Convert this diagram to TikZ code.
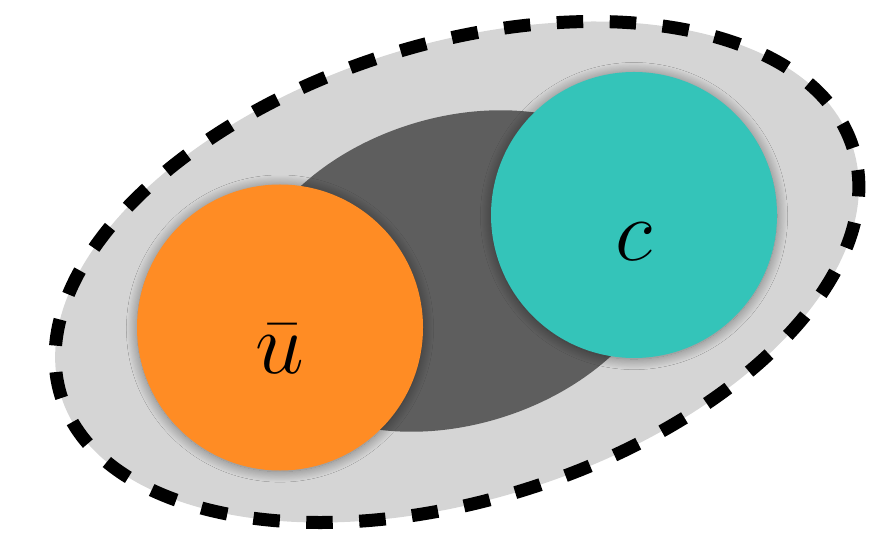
\documentclass[tikz,border=0pt]{standalone}
\usepackage{tikz}
\usetikzlibrary{shapes.geometric,positioning,shadows.blur}
\usepackage{xcolor}
\usepackage{amsmath}
\definecolor{haloclr}{RGB}{213,213,213}
\definecolor{coreclr}{RGB}{94,94,94}
\definecolor{ubarclr}{RGB}{255,140,36}
\definecolor{charmclr}{RGB}{52,196,185}
\tikzset{
  halo/.style={ellipse,fill=haloclr,draw=black,line width=1.3mm,
    dash pattern=on 2.65mm off 2.65mm,inner sep=0pt},
  coreblk/.style={ellipse,fill=coreclr,draw=none,inner sep=0pt},
  qcirc/.style={circle,draw=none,minimum size=2.86cm,inner sep=0pt,
    font=\fontsize{28}{32}\selectfont,text height=26pt,text depth=0pt,
    blur shadow={shadow xshift=0pt,shadow yshift=-0.3pt,
      shadow blur radius=3pt,shadow blur steps=24,shadow opacity=45}},
}
\begin{document}
\begin{tikzpicture}
  \useasboundingbox (0,0) rectangle (8.9,5.37);
  \node[halo,minimum width=8.30cm,minimum height=4.56cm,rotate=17.4] (had) at (4.57,2.65) {};
  \node[coreblk,minimum width=4.41cm,minimum height=3.07cm,rotate=17.5] (core) at (4.56,2.66) {};
  \node[qcirc,fill=ubarclr] (ubar) at (2.80,2.095) {$\bar{u}$};
  \node[qcirc,fill=charmclr] (charm) at (6.34,3.22) {$c$};
\end{tikzpicture}
\end{document}
